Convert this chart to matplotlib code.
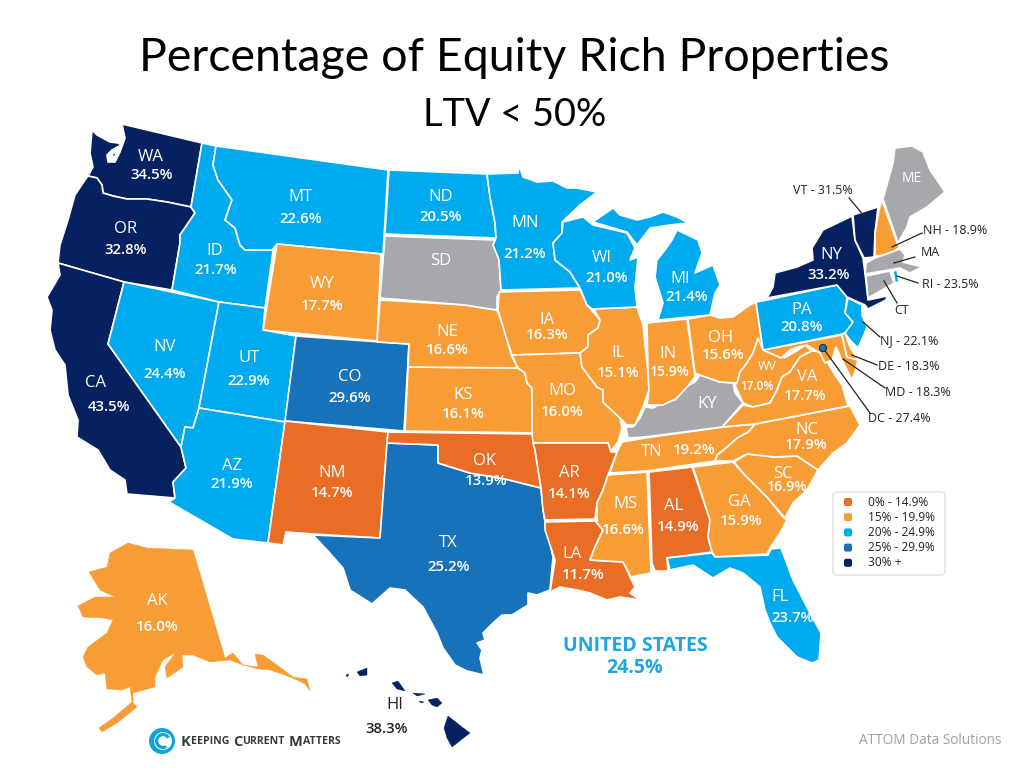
import matplotlib
matplotlib.use("Agg")
import matplotlib.pyplot as plt
from matplotlib.patches import Polygon, FancyBboxPatch, Circle, Wedge

TITLE = "Percentage of Equity Rich Properties"
SUBTITLE = "LTV < 50%"

# State share of equity-rich properties (%); None = no data (grey)
STATES = ["WA","OR","CA","NV","ID","MT","WY","UT","CO","AZ","NM","TX","OK","KS","NE","SD","ND",
          "MN","IA","MO","AR","LA","MS","AL","GA","FL","SC","NC","TN","KY","IL","IN","OH","WV",
          "VA","MD","DE","PA","NY","NJ","VT","NH","ME","MA","CT","RI","WI","MI","AK","HI"]
VALUES = [34.5,32.8,43.5,24.4,21.7,22.6,17.7,22.9,29.6,21.9,14.7,25.2,13.9,16.1,16.6,None,20.5,
          21.2,16.3,16.0,14.1,11.7,16.6,14.9,15.9,23.7,16.9,17.9,19.2,None,15.1,15.9,15.6,17.0,
          17.7,18.3,18.3,20.8,33.2,22.1,31.5,18.9,None,None,None,23.5,21.0,21.4,16.0,38.3]
DC_VALUE = 27.4
US_VALUE = 24.5

BIN_LIMITS = [15, 20, 25, 30]
BIN_COLORS = ["#E96D25", "#F89C36", "#00AAEE", "#1772BA", "#05215F"]
LEGEND_LABELS = ["0% - 14.9%", "15% - 19.9%", "20% - 24.9%", "25% - 29.9%", "30% +"]
NO_DATA = "#A6A8AB"

SHAPES = {
"WA":[[(122,124),(202,143),(191,207),(167,202),(147,199),(127,199),(113,196),(103,193),(102,185),(97,178),(88,176),(93,167),(90,153),(92,130),(97,135),(110,142),(118,143),(121,145),(112,150),(107,155),(108,162),(115,162),(120,152),(125,138)],
      [(112,154),(117,152),(114,158)]],
"OR":[[(88,176),(97,178),(102,185),(103,193),(113,196),(127,199),(147,199),(167,202),(191,207),(195,213),(180,235),(180,243),(172,290),(124,282),(58,263),(60,245),(68,220),(75,195),(85,180)]],
"CA":[[(58,263),(124,282),(108,344),(181,447),(186,468),(173,482),(175,498),(127,494),(125,480),(110,470),(98,450),(77,437),(78,420),(68,395),(65,365),(55,350),(50,330),(52,310),(47,297),(60,275)]],
"NV":[[(124,282),(219,302),(199,408),(193,428),(185,427),(181,447),(108,344)]],
"ID":[[(202,143),(216,146),(213,165),(218,180),(232,200),(225,220),(235,228),(240,245),(245,250),(272,250),(273,251),(265,308),(219,302),(172,290),(180,243),(180,235),(195,213),(191,207)]],
"MT":[[(216,146),(388,170),(383,254),(277,244),(272,250),(245,250),(240,245),(235,228),(225,220),(232,200),(218,180),(213,165)]],
"WY":[[(277,244),(381,254),(377,341),(263,330)]],
"UT":[[(219,302),(265,308),(263,330),(296,336),(285,422),(199,408)]],
"CO":[[(296,336),(409,344),(404,431),(285,421)]],
"AZ":[[(199,408),(285,422),(268,543),(233,539),(169,502),(175,498),(173,482),(186,468),(181,447),(185,427),(193,428)]],
"NM":[[(285,421),(388,432),(380,538),(313,534),(286,532),(283,545),(268,543)]],
"TX":[[(387,443),(438,445),(438,463),(470,473),(505,479),(541,488),(543,510),(545,522),(553,557),(550,590),(537,595),(528,593),(528,605),(512,615),(502,615),(493,623),(483,633),(485,640),(477,643),(482,650),(480,658),(484,675),(467,671),(455,665),(443,648),(437,633),(423,607),(405,590),(390,588),(372,604),(350,590),(343,568),(327,550),(313,535),(380,538)]],
"OK":[[(388,432),(532,434),(535,450),(541,488),(505,479),(470,473),(438,463),(438,445),(387,443)]],
"KS":[[(408,367),(518,368),(525,373),(527,383),(532,388),(532,433),(405,431)]],
"NE":[[(380,300),(465,305),(477,307),(497,310),(502,323),(507,340),(512,357),(518,368),(408,367),(409,344),(377,342)]],
"SD":[[(385,236),(495,240),(499,260),(501,290),(497,297),(497,310),(477,307),(465,305),(380,298)]],
"ND":[[(389,170),(487,174),(490,197),(495,223),(496,238),(385,234)]],
"MN":[[(487,174),(518,173),(519,165),(523,177),(537,182),(553,181),(567,188),(577,188),(597,192),(580,205),(562,222),(562,233),(553,243),(555,260),(570,272),(580,288),(501,290),(499,260),(493,245),(496,238),(495,223),(490,197)]],
"IA":[[(499,292),(580,290),(587,305),(600,320),(598,328),(588,335),(588,347),(580,353),(512,355),(507,340),(502,323),(498,310)]],
"MO":[[(512,355),(580,353),(582,367),(597,387),(603,390),(603,402),(620,418),(622,428),(618,442),(610,452),(608,443),(533,443),(532,433),(532,388),(527,383),(525,373),(518,368)]],
"AR":[[(533,443),(608,443),(611,452),(617,452),(608,475),(603,490),(597,503),(595,519),(545,520),(543,510),(541,488),(535,450)]],
"LA":[[(545,522),(595,521),(597,523),(603,530),(595,547),(590,560),(623,562),(627,570),(630,577),(635,587),(630,593),(640,600),(620,597),(607,600),(590,593),(577,590),(560,587),(550,592),(555,560),(545,530)]],
"MS":[[(608,475),(647,472),(651,573),(631,577),(623,562),(590,560),(595,547),(603,530),(597,523),(597,503),(603,490)]],
"AL":[[(649,472),(692,467),(710,520),(708,537),(712,552),(667,558),(668,571),(655,571),(652,563)]],
"GA":[[(693,467),(733,462),(743,473),(767,497),(783,517),(787,520),(780,533),(770,548),(767,554),(715,557),(712,552),(708,537),(710,520)]],
"FL":[[(667,558),(712,553),(715,557),(768,555),(771,549),(781,548),(793,580),(810,613),(821,633),(819,660),(812,663),(797,657),(777,637),(770,623),(765,610),(760,587),(743,573),(730,568),(713,578),(693,565),(670,570)]],
"SC":[[(734,462),(747,454),(775,457),(797,456),(818,470),(807,490),(793,503),(785,518),(767,497),(743,473)]],
"NC":[[(715,461),(717,455),(727,447),(737,438),(748,432),(755,424),(850,406),(860,425),(847,443),(833,453),(818,470),(797,456),(775,457),(747,454),(733,461)]],
"TN":[[(610,473),(617,452),(622,442),(645,438),(723,427),(755,424),(748,432),(737,438),(727,447),(717,455),(715,461),(647,471)]],
"KY":[[(626,427),(628,438),(645,437),(722,427),(743,403),(735,393),(733,383),(720,382),(700,375),(695,382),(683,388),(675,400),(665,402),(653,408),(645,407),(640,418),(633,427)]],
"IL":[[(594,309),(637,307),(643,325),(648,373),(649,390),(643,407),(638,418),(635,425),(627,425),(620,418),(603,402),(603,390),(597,387),(582,367),(580,353),(588,347),(588,335),(598,328),(600,320)]],
"IN":[[(647,323),(687,319),(695,377),(687,387),(677,398),(663,405),(647,405),(649,390),(648,373)]],
"OH":[[(688,319),(710,315),(720,318),(733,317),(750,305),(756,302),(763,350),(758,340),(753,353),(747,363),(740,372),(737,383),(720,382),(700,375),(695,373)]],
"WV":[[(737,383),(740,372),(747,363),(753,353),(758,338),(763,350),(782,349),(784,358),(795,352),(805,345),(812,351),(800,357),(790,372),(782,377),(777,390),(770,403),(753,407),(743,403),(735,385)]],
"VA":[[(722,427),(743,405),(753,407),(770,403),(777,390),(782,377),(790,372),(800,357),(812,351),(823,352),(830,367),(835,375),(842,385),(848,406),(755,424)]],
"MD":[[(763,350),(842,335),(847,357),(858,360),(855,372),(852,380),(842,360),(836,347),(832,360),(825,363),(820,353),(807,345),(798,347),(790,350),(781,358)]],
"DE":[[(842,335),(845,333),(850,347),(858,360),(847,357)]],
"PA":[[(756,302),(767,300),(837,285),(847,297),(845,313),(853,322),(850,330),(842,334),(763,350)]],
"NY":[[(767,298),(773,287),(775,273),(797,267),(813,260),(812,248),(823,230),(852,216),(855,240),(863,258),(865,273),(868,300),(887,296),(886,300),(868,309),(865,305),(847,297),(837,285)]],
"NJ":[[(848,298),(862,305),(862,315),(867,327),(863,337),(858,348),(850,340),(845,333),(853,322),(845,313)]],
"VT":[[(853,215),(878,207),(875,233),(874,257),(864,258),(855,240)]],
"NH":[[(882,200),(897,243),(900,247),(888,255),(875,256),(875,233),(879,210)]],
"ME":[[(883,199),(893,163),(895,148),(912,146),(923,152),(930,170),(945,192),(927,207),(910,217),(907,227),(898,243)]],
"MA":[[(866,263),(875,258),(900,249),(905,255),(903,262),(922,267),(910,273),(900,268),(865,274)]],
"CT":[[(866,276),(890,271),(894,283),(868,298)]],
"RI":[[(893,271),(897,270),(899,282),(895,283)]],
"WI":[[(563,222),(583,217),(593,225),(627,233),(635,248),(630,260),(638,257),(635,287),(637,307),(592,309),(587,305),(580,288),(570,272),(555,260),(553,243),(562,233)]],
"MI":[[(593,222),(613,208),(620,215),(637,220),(650,217),(663,212),(677,217),(688,223),(670,225),(650,228),(637,245),(627,232)],
      [(677,230),(698,240),(702,253),(695,273),(713,265),(720,285),(715,293),(710,315),(658,320),(663,303),(655,277),(657,260),(665,250),(672,240)]],
"AK":[[(128,543),(147,548),(193,550),(225,658),(233,653),(243,665),(258,667),(255,654),(263,655),(277,665),(293,677),(307,679),(310,691),(305,684),(297,680),(285,675),(270,670),(258,669),(240,664),(230,660),(210,662),(193,655),(182,655),(183,667),(167,678),(165,667),(175,653),(163,660),(155,677),(155,687),(133,693),(133,703),(137,707),(117,723),(102,732),(99,728),(113,718),(132,702),(130,687),(122,690),(107,689),(105,673),(97,675),(87,667),(83,657),(88,647),(107,633),(113,620),(103,618),(83,617),(78,606),(95,597),(115,597),(100,590),(89,572),(107,567),(110,553)]],
"HI":[[(357,672),(367,668),(367,675),(360,676)],[(346,675),(349,674),(347,677)],[(392,683),(398,681),(405,691),(397,689)],
      [(413,693),(425,694),(417,696)],[(419,701),(424,702),(421,703)],[(428,700),(437,698),(442,703),(437,707),(432,705)],
      [(448,716),(462,727),(470,733),(452,747),(447,738),(444,728)]],
}

# (name x, name y, value x, value y) for labels printed inside a state
INSIDE = {"WA":(151,157,152,175),"OR":(126,229,126,250),"CA":(96,383,109,407),"NV":(165,347,165,374),
"ID":(215,251,216,270),"MT":(300,197,301,219),"WY":(322,284,322,306),"UT":(249,358,249,381),"AZ":(232,466,232,484),
"CO":(350,377,350,398),"NM":(332,473,332,493),"ND":(441,197,441,217),"SD":(441,261,0,0),"MN":(525,223,525,254),
"WI":(602,258,607,278),"MI":(680,279,687,297),"IA":(547,320,547,335),"NE":(447,332,447,350),"KS":(463,395,463,414),
"MO":(562,391,562,412),"IL":(618,353,618,373),"IN":(668,354,670,372),"OH":(721,338,723,355),"KY":(707,404,0,0),
"TX":(448,543,449,567),"OK":(485,461,486,481),"AR":(569,473,569,494),"LA":(572,554,583,575),"MS":(625,504,623,530),
"AL":(674,506,678,527),"TN":(652,452,694,450),"GA":(739,502,741,521),"SC":(783,474,787,487),"NC":(807,430,806,445),
"VA":(807,377,805,396),"WV":(767,367,757,386),"FL":(780,597,793,618),"AK":(157,601,157,627),"NY":(831,255,829,275),
"PA":(802,310,802,327),"ME":(912,179,0,0)}
SMALL_NAME = {"WV": 9, "ME": 10}
SMALL_VALUE = {"WV": 8.5, "IN": 10, "SC": 10.3}

# (state, label centre x, y, line start x, y, line end x, y)
CALLOUTS = [("VT",823,191,849,198,865,217),("NH",955,230,922,233,892,247),("MA",930,253,915,257,894,263),
("RI",950,284,918,283,897,276),("CT",902,310,897,303,884,281),("NJ",909,341,880,337,863,322),
("DE",909,366,877,365,852,355),("MD",918,393,885,388,843,359),("DC",899,418,870,413,823,348)]

def colour(v):
    if v is None:
        return NO_DATA
    for limit, c in zip(BIN_LIMITS, BIN_COLORS):
        if v < limit:
            return c
    return BIN_COLORS[-1]

lookup = dict(zip(STATES, VALUES))
lookup["DC"] = DC_VALUE

fig = plt.figure(figsize=(10.24, 7.68), dpi=100)
ax = fig.add_axes([0, 0, 1, 1])
ax.set_xlim(0, 1024); ax.set_ylim(768, 0); ax.axis("off")

LABEL_FONT = "Open Sans"
ax.text(514, 58, TITLE, ha="center", va="center", fontsize=33.5, family="Lato", color="black")
ax.text(515, 115, SUBTITLE, ha="center", va="center", fontsize=27.3, family="Lato", color="black")

for st in STATES:
    fc = colour(lookup[st])
    island = st in ("AK", "HI")
    for ring in SHAPES[st]:
        ax.add_patch(Polygon(ring, closed=True, fc=fc, ec=fc if island else "white",
                             lw=0.3 if island else 1.2, joinstyle="round", zorder=2))

for st, (nx, ny, vx, vy) in INSIDE.items():
    ax.text(nx, ny, st, ha="center", va="center", fontsize=SMALL_NAME.get(st, 12), family=LABEL_FONT, color="white", zorder=4)
    if lookup[st] is not None:
        ax.text(vx, vy, f"{lookup[st]:.1f}%", ha="center", va="center", fontsize=SMALL_VALUE.get(st, 10.8), family=LABEL_FONT,
                weight="semibold", color="white", zorder=4)

# Hawaii sits on white, so its label is dark
ax.text(395, 705, "HI", ha="center", va="center", fontsize=12, family=LABEL_FONT, color="#222222", zorder=4)
ax.text(387, 729, f"{lookup['HI']:.1f}%", ha="center", va="center", fontsize=10.8, family=LABEL_FONT,
        weight="semibold", color="#222222", zorder=4)

for st, tx, ty, x0, y0, x1, y1 in CALLOUTS:
    ax.plot([x0, x1], [y0, y1], color="#222222", lw=0.9, zorder=5)
    txt = st if lookup[st] is None else f"{st} - {lookup[st]:.1f}%"
    ax.text(tx, ty, txt, ha="center", va="center", fontsize=9, family=LABEL_FONT, color="#222222", zorder=5)
ax.add_patch(Circle((823, 348), 3.6, fc=colour(DC_VALUE), ec="#222222", lw=0.7, zorder=6))

# Legend
ax.add_patch(FancyBboxPatch((833, 492), 112, 83, boxstyle="round,pad=0,rounding_size=4", fc="white", ec="#E4E4E4", lw=1.2, zorder=3))
for i, (c, lab) in enumerate(zip(BIN_COLORS, LEGEND_LABELS)):
    y = 502 + i * 15.2
    ax.add_patch(FancyBboxPatch((844, y - 4), 8, 8, boxstyle="round,pad=0,rounding_size=2", fc=c, ec="none", zorder=4))
    ax.text(867.5, y, lab, ha="left", va="center", fontsize=8.6, family=LABEL_FONT, color="#222222", zorder=4)

ax.text(635, 646, "UNITED STATES", ha="center", va="center", fontsize=14, weight="bold", family=LABEL_FONT, color="#1CA6E2")
ax.text(635, 668, f"{US_VALUE:.1f}%", ha="center", va="center", fontsize=14, weight="bold", family=LABEL_FONT, color="#1CA6E2")

# Logo
ax.add_patch(Circle((162, 741), 13, fc="#0FA3DC", ec="none"))
ax.add_patch(Circle((163, 741), 9, fc="white", ec="none"))
ax.add_patch(Wedge((163, 741), 8, 60, 330, width=3.2, fc="#0FA3DC", ec="none"))
ax.add_patch(Circle((165, 741), 2, fc="white", ec="none"))

x = 181
for word in ["Keeping", "Current", "Matters"]:
    t = ax.text(x, 741.5, word[0], ha="left", va="center", fontsize=10.5, weight="bold", family=LABEL_FONT, color="#333A42")
    fig.canvas.draw()
    x = t.get_window_extent().x1
    t2 = ax.text(x, 742, word[1:].upper(), ha="left", va="center", fontsize=7.6, weight="bold", family=LABEL_FONT, color="#333A42")
    x = t2.get_window_extent().x1 + 4

ax.text(930, 741, "ATTOM Data Solutions", ha="center", va="center", fontsize=9.8, family=LABEL_FONT, color="#A0A0A0")

fig.savefig("out.png", dpi=100)
